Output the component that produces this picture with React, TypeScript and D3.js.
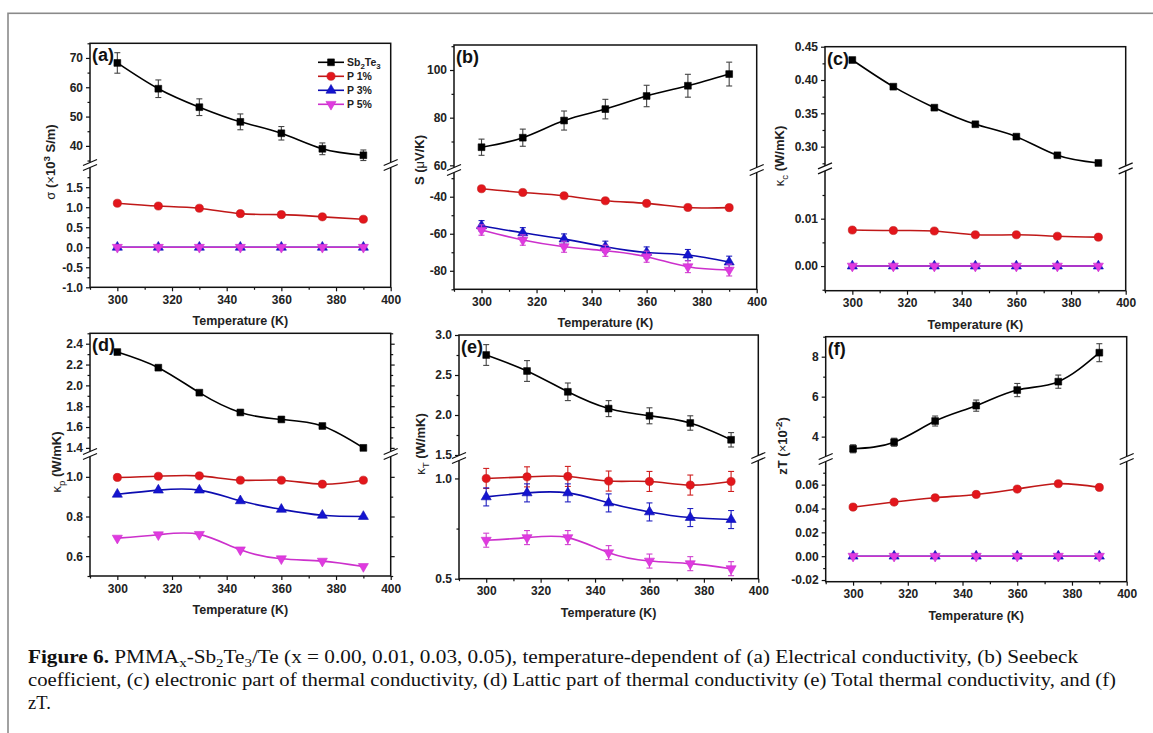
import React, { useEffect, useRef } from 'react';
import * as d3 from 'd3';

const temps = [300, 315, 330, 345, 360, 375, 390];
const xTicks = [300, 320, 340, 360, 380, 400];
const xMinor = [290, 310, 330, 350, 370, 390];
const zeros = [0, 0, 0, 0, 0, 0, 0];

// (a) electrical conductivity
const sigmaSb = [68.3, 59.5, 53.2, 48.2, 44.3, 39.0, 36.8];
const sigmaSbErr = [3.5, 3.0, 2.85, 2.7, 2.3, 2.0, 1.8];
const sigmaP1 = [1.10, 1.03, 0.975, 0.84, 0.815, 0.76, 0.70];

// (b) seebeck
const seebeckSb = [67.6, 71.6, 78.8, 83.6, 89.1, 93.4, 98.3];
const seebeckSbErr = [3.4, 3.6, 4.0, 4.1, 4.5, 4.8, 5.0];
const seebeckP1 = [-35.7, -37.7, -39.5, -42.2, -43.6, -45.8, -45.9];
const seebeckP3 = [-55.7, -59.5, -62.9, -67.0, -70.1, -71.5, -75.3];
const seebeckP3Err = [2.8, 2.8, 2.8, 3.0, 3.0, 3.0, 3.2];
const seebeckP5 = [-58.0, -63.4, -67.0, -69.2, -72.4, -77.8, -79.6];
const seebeckP5Err = [2.8, 2.8, 3.0, 3.0, 3.0, 3.2, 3.2];

// (c) electronic thermal conductivity
const kcSb = [0.430, 0.390, 0.3585, 0.3336, 0.315, 0.287, 0.2755];
const kcP1 = [0.0076, 0.0075, 0.0074, 0.0066, 0.0066, 0.0063, 0.0061];

// (d) lattice thermal conductivity
const kpSb = [2.32, 2.17, 1.93, 1.74, 1.673, 1.61, 1.40];
const kpP1 = [0.997, 1.003, 1.005, 0.983, 0.983, 0.963, 0.983];
const kpP3 = [0.912, 0.933, 0.933, 0.879, 0.836, 0.806, 0.800];
const kpP5 = [0.691, 0.708, 0.710, 0.632, 0.587, 0.575, 0.548];

// (e) total thermal conductivity
const ktSb = [2.75, 2.55, 2.29, 2.08, 1.99, 1.90, 1.69];
const ktSbErr = [0.13, 0.13, 0.11, 0.10, 0.10, 0.09, 0.09];
const ktP1 = [1.000, 1.008, 1.010, 0.987, 0.985, 0.967, 0.985];
const ktP1Err = [0.05, 0.05, 0.05, 0.05, 0.05, 0.05, 0.05];
const ktP3 = [0.908, 0.928, 0.928, 0.878, 0.833, 0.805, 0.795];
const ktP3Err = [0.045, 0.045, 0.045, 0.045, 0.045, 0.045, 0.045];
const ktP5 = [0.692, 0.705, 0.705, 0.630, 0.588, 0.575, 0.550];
const ktP5Err = [0.035, 0.035, 0.035, 0.035, 0.035, 0.035, 0.035];

// (f) zT
const ztSb = [3.39, 3.72, 4.78, 5.55, 6.33, 6.75, 8.2];
const ztSbErr = [0.2, 0.2, 0.25, 0.28, 0.33, 0.33, 0.45];
const ztP1 = [0.0412, 0.0454, 0.049, 0.0518, 0.0563, 0.0608, 0.0577];

const legendNames = ['Sb2Te3', 'P 1%', 'P 3%', 'P 5%'];

const styles: any = {
  sb: { line: '#000', fill: '#000', err: '#444', sym: d3.symbolSquare, size: 46, rot: 0 },
  p1: { line: '#c01818', fill: '#e3161c', err: '#d02020', sym: d3.symbolCircle, size: 52, rot: 0 },
  p3: { line: '#0c0cb0', fill: '#1414d0', err: '#2020c0', sym: d3.symbolTriangle, size: 44, rot: 0 },
  p5: { line: '#cc30cc', fill: '#e03ae0', err: '#d040d0', sym: d3.symbolTriangle, size: 44, rot: 180 },
};

const FONT = 'Liberation Sans, Arial, sans-serif';

const panels: any[] = [
  {
    label: '(a)', x: 90, y: 43.3, w: 300.7, h: 244, brk: 121.7,
    upper: { domain: [34.5, 75], major: [40, 50, 60, 70], minor: [35, 45, 55, 65, 75], digits: 0 },
    lower: { domain: [-1, 1.98], major: [-1, -0.5, 0, 0.5, 1, 1.5], minor: [-0.75, -0.25, 0.25, 0.75, 1.25, 1.75], digits: 1 },
    series: [
      { s: 'sb', v: sigmaSb, e: sigmaSbErr, seg: 'u' },
      { s: 'p1', v: sigmaP1, seg: 'l' },
      { s: 'p3', v: zeros, seg: 'l' },
      { s: 'p5', v: zeros, seg: 'l' },
    ],
    title: [{ t: 'σ', n: true }, { t: ' (' }, { t: '×', n: true }, { t: '10' }, { t: '3', sup: true }, { t: ' S/m)' }],
    tx: 55, ty: 162, legend: true,
  },
  {
    label: '(b)', x: 454, y: 45, w: 302.7, h: 244.3, brk: 125,
    upper: { domain: [59.3, 110.5], major: [60, 80, 100], minor: [70, 90, 110], digits: 0 },
    lower: { domain: [-90, -27.2], major: [-40, -60, -80], minor: [-30, -50, -70, -90], digits: 0 },
    series: [
      { s: 'sb', v: seebeckSb, e: seebeckSbErr, seg: 'u' },
      { s: 'p1', v: seebeckP1, seg: 'l' },
      { s: 'p3', v: seebeckP3, e: seebeckP3Err, seg: 'l' },
      { s: 'p5', v: seebeckP5, e: seebeckP5Err, seg: 'l' },
    ],
    title: [{ t: 'S (' }, { t: 'μ', n: true }, { t: 'V/K)' }],
    tx: 424, ty: 160,
  },
  {
    label: '(c)', x: 825, y: 46.7, w: 300.7, h: 244, brk: 121.6,
    upper: { domain: [0.272, 0.45], major: [0.30, 0.35, 0.40, 0.45], minor: [0.275, 0.325, 0.375, 0.425], digits: 2 },
    lower: { domain: [-0.0052, 0.02], major: [0, 0.01], minor: [-0.005, 0.005, 0.015], digits: 2 },
    series: [
      { s: 'sb', v: kcSb, seg: 'u' },
      { s: 'p1', v: kcP1, seg: 'l' },
      { s: 'p3', v: zeros, seg: 'l' },
      { s: 'p5', v: zeros, seg: 'l' },
    ],
    title: [{ t: 'κ', n: true }, { t: 'c', sub: true, n: true }, { t: ' (W/mK)' }],
    tx: 784, ty: 156,
  },
  {
    label: '(d)', x: 90, y: 333.3, w: 300.7, h: 242.7, brk: 120.7, rightTicks: true,
    upper: { domain: [1.37, 2.5], major: [1.4, 1.6, 1.8, 2.0, 2.2, 2.4], minor: [1.5, 1.7, 1.9, 2.1, 2.3, 2.5], digits: 1 },
    lower: { domain: [0.5, 1.1], major: [0.6, 0.8, 1.0], minor: [0.5, 0.7, 0.9], digits: 1 },
    series: [
      { s: 'sb', v: kpSb, seg: 'u' },
      { s: 'p1', v: kpP1, seg: 'l' },
      { s: 'p3', v: kpP3, seg: 'l' },
      { s: 'p5', v: kpP5, seg: 'l' },
    ],
    title: [{ t: 'κ', n: true }, { t: 'p', sub: true, n: true }, { t: ' (W/mK)' }],
    tx: 61, ty: 462,
  },
  {
    label: '(e)', x: 459, y: 335, w: 299.3, h: 243.7, brk: 123,
    upper: { domain: [1.5, 3.0], major: [1.5, 2.0, 2.5, 3.0], minor: [1.75, 2.25, 2.75], digits: 1 },
    lower: { domain: [0.5, 1.087], major: [0.5, 1.0], minor: [0.75], digits: 1 },
    series: [
      { s: 'sb', v: ktSb, e: ktSbErr, seg: 'u' },
      { s: 'p1', v: ktP1, e: ktP1Err, seg: 'l' },
      { s: 'p3', v: ktP3, e: ktP3Err, seg: 'l' },
      { s: 'p5', v: ktP5, e: ktP5Err, seg: 'l' },
    ],
    title: [{ t: 'κ', n: true }, { t: 'T', sub: true, n: true }, { t: ' (W/mK)' }],
    tx: 425, ty: 444,
  },
  {
    label: '(f)', x: 825.7, y: 336.7, w: 301, h: 245, brk: 122.3,
    upper: { domain: [3.03, 9], major: [4, 6, 8], minor: [5, 7, 9], digits: 0 },
    lower: { domain: [-0.0214, 0.079], major: [-0.02, 0, 0.02, 0.04, 0.06], minor: [-0.01, 0.01, 0.03, 0.05, 0.07], digits: 2 },
    series: [
      { s: 'sb', v: ztSb, e: ztSbErr, seg: 'u' },
      { s: 'p1', v: ztP1, seg: 'l' },
      { s: 'p3', v: zeros, seg: 'l' },
      { s: 'p5', v: zeros, seg: 'l' },
    ],
    title: [{ t: 'zT (' }, { t: '×', n: true }, { t: '10' }, { t: '-2', sup: true }, { t: ')' }],
    tx: 787, ty: 446,
  },
];

function styleAxis(sel: any) {
  sel.select('.domain').remove();
  sel.selectAll('text').attr('font-family', FONT).attr('font-size', 12).attr('font-weight', 'bold').attr('fill', '#222');
  sel.selectAll('line').attr('stroke', '#111').attr('stroke-width', 1.2);
}

function addRich(text: any, parts: any[], size: number) {
  parts.forEach((p: any) => {
    const ts = text.append('tspan').text(p.t);
    if (p.n) ts.attr('font-weight', 'normal');
    if (p.sup) ts.attr('font-size', size * 0.75).attr('dy', -size * 0.4);
    if (p.sub) ts.attr('font-size', size * 0.75).attr('dy', size * 0.3);
    if (p.sup || p.sub) {
      // reset baseline for the next part
      p._back = p.sup ? size * 0.4 : -size * 0.3;
    }
  });
  // fix dy of the tspan following sup/sub
  const nodes = text.selectAll('tspan').nodes();
  parts.forEach((p: any, i: number) => {
    if (p._back !== undefined && nodes[i + 1]) d3.select(nodes[i + 1]).attr('dy', p._back);
  });
}

function drawPanel(root: any, p: any) {
  const g = root.append('g').attr('transform', `translate(${p.x},${p.y})`);
  const gap = 3;
  const x = d3.scaleLinear().domain([290, 400]).range([0, p.w]);
  const yU = d3.scaleLinear().domain(p.upper.domain).range([p.brk - gap, 0]);
  const yL = d3.scaleLinear().domain(p.lower.domain).range([p.h, p.brk + gap]);

  // axes
  const fmt = (digits: number) => (d: any) => (+d).toFixed(digits);
  [[yU, p.upper], [yL, p.lower]].forEach(([sc, cfg]: any) => {
    g.append('g').call(d3.axisLeft(sc).tickValues(cfg.major).tickSize(4).tickPadding(3).tickFormat(fmt(cfg.digits))).call(styleAxis);
    g.append('g').call(d3.axisLeft(sc).tickValues(cfg.minor).tickSize(2.5).tickFormat(() => '')).call(styleAxis);
    if (p.rightTicks) {
      g.append('g').attr('transform', `translate(${p.w},0)`)
        .call(d3.axisRight(sc).tickValues(cfg.major).tickSize(4).tickFormat(() => '')).call(styleAxis);
      g.append('g').attr('transform', `translate(${p.w},0)`)
        .call(d3.axisRight(sc).tickValues(cfg.minor).tickSize(2.5).tickFormat(() => '')).call(styleAxis);
    }
  });
  g.append('g').attr('transform', `translate(0,${p.h})`)
    .call(d3.axisBottom(x).tickValues(xTicks).tickSize(4).tickPadding(4).tickFormat((d: any) => String(d))).call(styleAxis);
  g.append('g').attr('transform', `translate(0,${p.h})`)
    .call(d3.axisBottom(x).tickValues(xMinor).tickSize(2.5).tickFormat(() => '')).call(styleAxis);

  // frame
  g.append('rect').attr('width', p.w).attr('height', p.h).attr('fill', 'none').attr('stroke', '#111').attr('stroke-width', 1.5);

  // break marks
  [0, p.w].forEach((bx) => {
    const by = p.brk;
    g.append('polygon')
      .attr('points', `${bx - 7},${by + 0.5} ${bx + 7},${by - 5.5} ${bx + 7},${by - 0.5} ${bx - 7},${by + 5.5}`)
      .attr('fill', '#fff');
    [-2.5, 2.5].forEach((o) => {
      g.append('line').attr('x1', bx - 7).attr('y1', by + o + 3).attr('x2', bx + 7).attr('y2', by + o - 3)
        .attr('stroke', '#111').attr('stroke-width', 1.3);
    });
  });

  // series
  p.series.forEach((sr: any) => {
    const st = styles[sr.s];
    const y = sr.seg === 'u' ? yU : yL;
    const line = d3.line<number>().x((d, i) => x(temps[i])).y((d) => y(d)).curve(d3.curveNatural);
    g.append('path').attr('d', line(sr.v)).attr('fill', 'none').attr('stroke', st.line).attr('stroke-width', 1.6);
    if (sr.e) {
      const eg = g.append('g').attr('stroke', st.err).attr('stroke-width', 1.1);
      sr.v.forEach((v: number, i: number) => {
        const cx = x(temps[i]);
        const y1 = y(v - sr.e[i]);
        const y2 = y(v + sr.e[i]);
        eg.append('line').attr('x1', cx).attr('x2', cx).attr('y1', y1).attr('y2', y2);
        eg.append('line').attr('x1', cx - 3).attr('x2', cx + 3).attr('y1', y1).attr('y2', y1);
        eg.append('line').attr('x1', cx - 3).attr('x2', cx + 3).attr('y1', y2).attr('y2', y2);
      });
    }
    const sym = d3.symbol().type(st.sym).size(st.size);
    g.append('g').selectAll('path').data(sr.v).enter().append('path')
      .attr('d', sym as any)
      .attr('transform', (d: any, i: number) => `translate(${x(temps[i])},${y(d)}) rotate(${st.rot})`)
      .attr('fill', st.fill).attr('stroke', st.line).attr('stroke-width', 0.6);
  });

  // panel label
  g.append('text').attr('x', 2).attr('y', 18).text(p.label)
    .attr('font-family', FONT).attr('font-size', 18).attr('font-weight', 'bold').attr('fill', '#111');

  // x title
  g.append('text').attr('x', p.w / 2).attr('y', p.h + 38).attr('text-anchor', 'middle').text('Temperature (K)')
    .attr('font-family', FONT).attr('font-size', 12.5).attr('font-weight', 'bold').attr('fill', '#222');

  // y title
  const yt = root.append('text').attr('transform', `translate(${p.tx},${p.ty}) rotate(-90)`)
    .attr('text-anchor', 'middle').attr('font-family', FONT).attr('font-size', 13).attr('font-weight', 'bold').attr('fill', '#222');
  addRich(yt, p.title, 13);

  if (p.legend) {
    const keys = ['sb', 'p1', 'p3', 'p5'];
    keys.forEach((k, i) => {
      const st = styles[k];
      const ly = 19 + i * 14;
      const lx = 228;
      g.append('line').attr('x1', lx).attr('x2', lx + 26).attr('y1', ly).attr('y2', ly).attr('stroke', st.line).attr('stroke-width', 1.6);
      g.append('path').attr('d', d3.symbol().type(st.sym).size(st.size)() as any)
        .attr('transform', `translate(${lx + 13},${ly}) rotate(${st.rot})`).attr('fill', st.fill).attr('stroke', st.line).attr('stroke-width', 0.6);
      const t = g.append('text').attr('x', lx + 29).attr('y', ly + 4)
        .attr('font-family', FONT).attr('font-size', 10.5).attr('font-weight', 'bold').attr('fill', '#222');
      if (legendNames[i] === 'Sb2Te3') {
        addRich(t, [{ t: 'Sb' }, { t: '2', sub: true }, { t: 'Te' }, { t: '3', sub: true }], 10.5);
      } else {
        t.text(legendNames[i]);
      }
    });
  }
}

export default function App() {
  const ref = useRef<SVGSVGElement>(null);
  useEffect(() => {
    document.body.style.margin = '0';
    const svg = d3.select(ref.current);
    svg.select('.charts').remove();
    const root = svg.append('g').attr('class', 'charts');
    panels.forEach((p) => drawPanel(root, p));
  }, []);

  const cap = { fontFamily: 'Liberation Serif, Times New Roman, serif', fontSize: 18.5, fill: '#111' };
  return (
    <svg ref={ref} width={1153} height={733} style={{ position: 'absolute', left: 0, top: 0, background: '#fff' }}>
      <rect x={0} y={0} width={1153} height={733} fill="#fff" />
      <rect x={8} y={13.3} width={1200} height={800} fill="none" stroke="#8a8a8a" strokeWidth={1.6} />
      <text x={28} y={663} style={cap} textLength={1050} lengthAdjust="spacingAndGlyphs">
        <tspan fontWeight="bold">Figure 6.</tspan>
        <tspan> PMMA</tspan>
        <tspan fontSize={13} dy={4}>x</tspan>
        <tspan dy={-4}>-Sb</tspan>
        <tspan fontSize={13} dy={4}>2</tspan>
        <tspan dy={-4}>Te</tspan>
        <tspan fontSize={13} dy={4}>3</tspan>
        <tspan dy={-4}>/Te (x = 0.00, 0.01, 0.03, 0.05), temperature-dependent of (a) Electrical conductivity, (b) Seebeck</tspan>
      </text>
      <text x={28} y={686} style={cap} textLength={1088} lengthAdjust="spacingAndGlyphs">
        coefficient, (c) electronic part of thermal conductivity, (d) Lattic part of thermal conductivity (e) Total thermal conductivity, and (f)
      </text>
      <text x={28} y={709} style={cap}>zT.</text>
    </svg>
  );
}
